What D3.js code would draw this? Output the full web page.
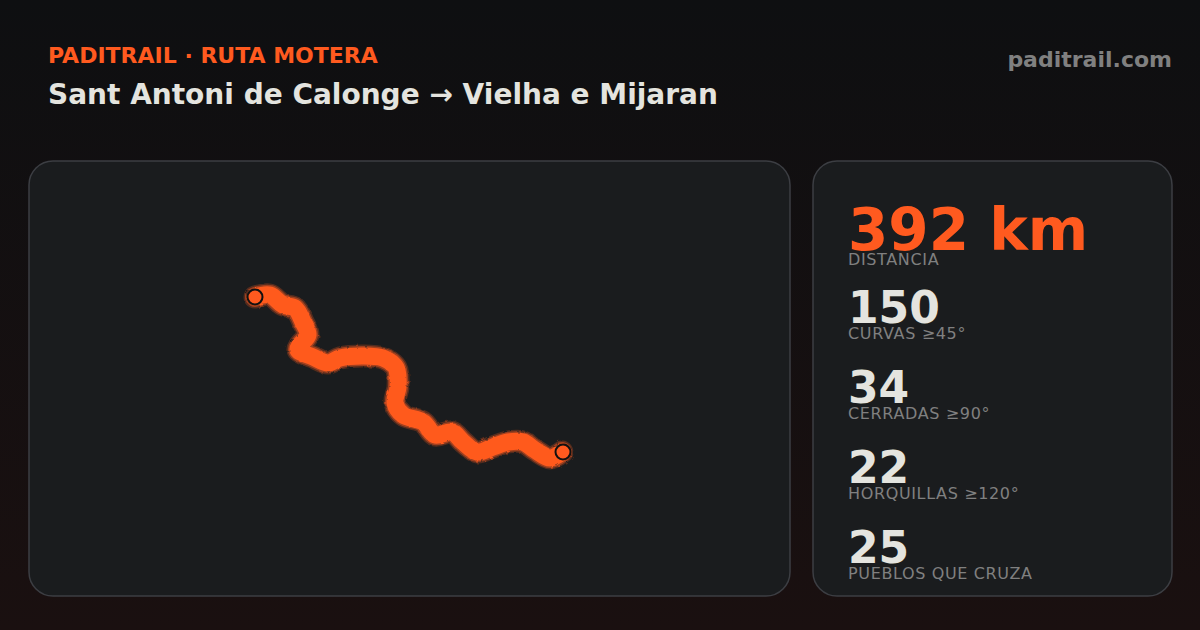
<!DOCTYPE html>
<html>
<head>
<meta charset="utf-8">
<script src="https://cdn.jsdelivr.net/npm/d3@7"></script>
<style>
  html, body { margin: 0; padding: 0; background: #0e0f11; }
  svg { display: block; font-family: "DejaVu Sans", sans-serif; }
</style>
</head>
<body>
<svg id="chart" width="1200" height="630"></svg>
<script>
// route, from Sant Antoni (east) to Vielha (west), in map units
const routeEast = [307, 295, 280, 268, 253, 238, 222, 208, 197, 180, 168, 148, 140, 143, 142, 140, 128, 108, 85, 73, 58, 43, 45, 53, 48, 40, 28, 15, 0];
const routeNorth = [0, -6, 2, 10, 10, 5, 0, 10, 20, 17, 30, 37, 49, 65, 82, 86, 94, 96, 94, 89, 95, 102, 107, 117, 130, 144, 147, 157, 155];

const eyebrow = 'PADITRAIL · RUTA MOTERA';
const title = 'Sant Antoni de Calonge → Vielha e Mijaran';
const site = 'paditrail.com';

const statValues = ['392 km', '150', '34', '22', '25'];
const statLabels = ['DISTANCIA', 'CURVAS ≥45°', 'CERRADAS ≥90°', 'HORQUILLAS ≥120°', 'PUEBLOS QUE CRUZA'];
const statBaselines = [250, 323, 403, 483, 563];
const labelBaselines = [265, 339, 419, 499, 579];

const accent = '#ff5a1f';
const svg = d3.select('#chart');

const defs = svg.append('defs');
const bg = defs.append('linearGradient')
  .attr('id', 'bg')
  .attr('x1', 0).attr('y1', 0).attr('x2', 0).attr('y2', 1);
bg.append('stop').attr('offset', '0%').attr('stop-color', '#0e0f11');
bg.append('stop').attr('offset', '100%').attr('stop-color', '#1a1010');

const rough = defs.append('filter')
  .attr('id', 'rough')
  .attr('x', '-10%').attr('y', '-10%')
  .attr('width', '120%').attr('height', '120%');
rough.append('feTurbulence')
  .attr('type', 'fractalNoise')
  .attr('baseFrequency', 0.2)
  .attr('numOctaves', 2)
  .attr('seed', 4);
rough.append('feDisplacementMap')
  .attr('in', 'SourceGraphic')
  .attr('scale', 3);

svg.append('rect')
  .attr('width', 1200)
  .attr('height', 630)
  .attr('fill', 'url(#bg)');

const panels = [[29, 161, 761, 435], [813, 161, 359, 435]];
svg.selectAll('.panel')
  .data(panels)
  .join('rect')
  .attr('class', 'panel')
  .attr('x', d => d[0])
  .attr('y', d => d[1])
  .attr('width', d => d[2])
  .attr('height', d => d[3])
  .attr('rx', 24)
  .attr('fill', '#1a1c1e')
  .attr('stroke', '#3c3e43')
  .attr('stroke-width', 1.5);

// header
svg.append('text')
  .attr('x', 48).attr('y', 63)
  .attr('font-size', 22).attr('font-weight', 700)
  .attr('fill', accent)
  .text(eyebrow);
svg.append('text')
  .attr('x', 48).attr('y', 104)
  .attr('font-size', 28).attr('font-weight', 700)
  .attr('fill', '#e4e4df')
  .text(title);
svg.append('text')
  .attr('x', 1172).attr('y', 67)
  .attr('text-anchor', 'end')
  .attr('font-size', 22).attr('font-weight', 700)
  .attr('fill', '#808080')
  .text(site);

// route
const x = d3.scaleLinear().domain([0, 308]).range([255, 563]);
const y = d3.scaleLinear().domain([0, 155]).range([452, 297]);
const points = routeEast.map((d, i) => [d, routeNorth[i]]);
const line = d3.line()
  .x(d => x(d[0]))
  .y(d => y(d[1]))
  .curve(d3.curveCatmullRom);

const route = svg.append('g').attr('filter', 'url(#rough)');
[[23, 0.25], [20, 0.45], [17, 1]].forEach(([width, opacity]) => {
  route.append('path')
    .attr('d', line(points))
    .attr('fill', 'none')
    .attr('stroke', accent)
    .attr('stroke-width', width)
    .attr('stroke-opacity', opacity)
    .attr('stroke-linecap', 'round')
    .attr('stroke-linejoin', 'round');
});

// start and end markers
svg.selectAll('.marker')
  .data([[308, 0], [0, 155]])
  .join('circle')
  .attr('class', 'marker')
  .attr('cx', d => x(d[0]))
  .attr('cy', d => y(d[1]))
  .attr('r', 7.5)
  .attr('fill', accent)
  .attr('stroke', '#111111')
  .attr('stroke-width', 2);

// stats
const stats = svg.selectAll('.stat')
  .data(statValues)
  .join('g')
  .attr('class', 'stat');
stats.append('text')
  .attr('x', 848)
  .attr('y', (d, i) => statBaselines[i])
  .attr('font-size', (d, i) => i === 0 ? 58 : 44)
  .attr('font-weight', 700)
  .attr('fill', (d, i) => i === 0 ? accent : '#e4e4df')
  .text(d => d);
stats.append('text')
  .attr('x', 848)
  .attr('y', (d, i) => labelBaselines[i])
  .attr('font-size', 16)
  .attr('letter-spacing', 0.64)
  .attr('fill', '#808080')
  .text((d, i) => statLabels[i]);
</script>
</body>
</html>
